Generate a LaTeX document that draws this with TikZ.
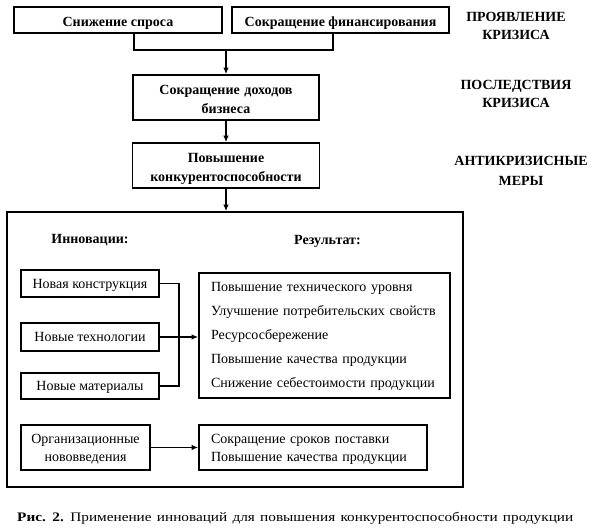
\documentclass[tikz,border=0pt]{standalone}
\usepackage{fontspec}
\usepackage{graphicx}
\setmainfont{Liberation Serif}
\usetikzlibrary{arrows.meta}
\begin{document}
\begin{tikzpicture}[x=1pt,y=-1pt,
  bx/.style={draw, line width=1.7pt, inner sep=0pt, align=center},
  bfb/.style={bx, font=\bfseries\fontsize{14}{19}\selectfont, text height=13pt, text depth=1pt},
  rgb/.style={bx, font=\fontsize{14}{18.5}\selectfont, text height=11pt, text depth=1pt},
  lbl/.style={inner sep=0pt, align=center, font=\bfseries\fontsize{14}{18}\selectfont},
  conn/.style={line width=1.3pt},
  arr/.style={conn, -{Latex[length=6.5pt,width=5.5pt]}}]
\useasboundingbox (0,0) rectangle (595,530);
% top boxes
\node[bfb, minimum width=208pt, minimum height=26pt] (A) at (118,20) {Снижение спроса};
\node[bfb, minimum width=217pt, minimum height=26pt] (B) at (340.5,20) {Сокращение финансирования};
\node[bfb, minimum width=186pt, minimum height=45pt, text width=180pt, text depth=20pt] (C) at (226,97.5) {Сокращение доходов\\бизнеса};
\node[bfb, minimum width=187pt, minimum height=45pt, text width=180pt, text depth=20pt] (D) at (226,165.5) {Повышение\\конкурентоспособности};
\node[draw, line width=1.7pt, minimum width=456pt, minimum height=275pt] (big) at (235,349.5) {};
% right labels
\node[lbl] (l1) at (516,26) {ПРОЯВЛЕНИЕ\\КРИЗИСА};
\node[lbl] (l2) at (516,94) {ПОСЛЕДСТВИЯ\\КРИЗИСА};
\node[lbl, font=\bfseries\fontsize{14}{20}\selectfont] (l3) at (521,171) {АНТИКРИЗИСНЫЕ\\МЕРЫ};
% inner
\node[lbl] (inn) at (90,240) {Инновации:};
\node[lbl] (res) at (327.5,241) {Результат:};
\node[rgb, minimum width=138pt, minimum height=27pt, text height=10pt] (E) at (90,283.5) {Новая конструкция};
\node[rgb, minimum width=138pt, minimum height=28pt, text height=10pt] (F) at (90,337) {Новые технологии};
\node[rgb, minimum width=138pt, minimum height=26pt, text height=10pt] (G) at (90,386) {Новые материалы};
\node[bx, minimum width=251pt, minimum height=125pt, text width=227pt, align=left,
  font=\fontsize{14}{24}\selectfont, text height=9pt, text depth=97pt] (R1) at (324.5,335.5)
  {Повышение технического уровня\\Улучшение потребительских свойств\\Ресурсосбережение\\Повышение качества продукции\\Снижение себестоимости продукции};
\node[rgb, minimum width=129pt, minimum height=45pt, text width=125pt, text depth=19.5pt] (H) at (85.5,447.5) {Организационные\\нововведения};
\node[rgb, minimum width=228pt, minimum height=45pt, text width=204pt, align=left, text depth=19.5pt] (R2) at (313,447.5)
  {Сокращение сроков поставки\\Повышение качества продукции};
% connectors
\coordinate (j1) at (134,50);
\coordinate (j2) at (333,50);
\coordinate (jm) at (226,50);
\draw[conn] (A.south -| j1) -- (j1) -- (j2) -- (B.south -| j2);
\draw[arr] (jm) -- (C.north);
\draw[arr] (C.south) -- (D.north);
\draw[arr] (D.south) -- (big.north -| D.south);
\coordinate (k1) at (179,283.5);
\coordinate (k2) at (179,386);
\draw[conn] (E.east) -- (k1) -- (k2) -- (G.east);
\draw[arr] (F.east) -- (R1.west |- F.east);
\draw[arr] (H.east) -- (R2.west);
% caption
\node[inner sep=0pt, anchor=base west, font=\fontsize{13}{16}\selectfont] (cap) at (17,521)
  {\resizebox{556pt}{\height}{\spaceskip=4.5pt plus 1pt\textbf{Рис. 2.} Применение инноваций для повышения конкурентоспособности продукции}};
\end{tikzpicture}
\end{document}
